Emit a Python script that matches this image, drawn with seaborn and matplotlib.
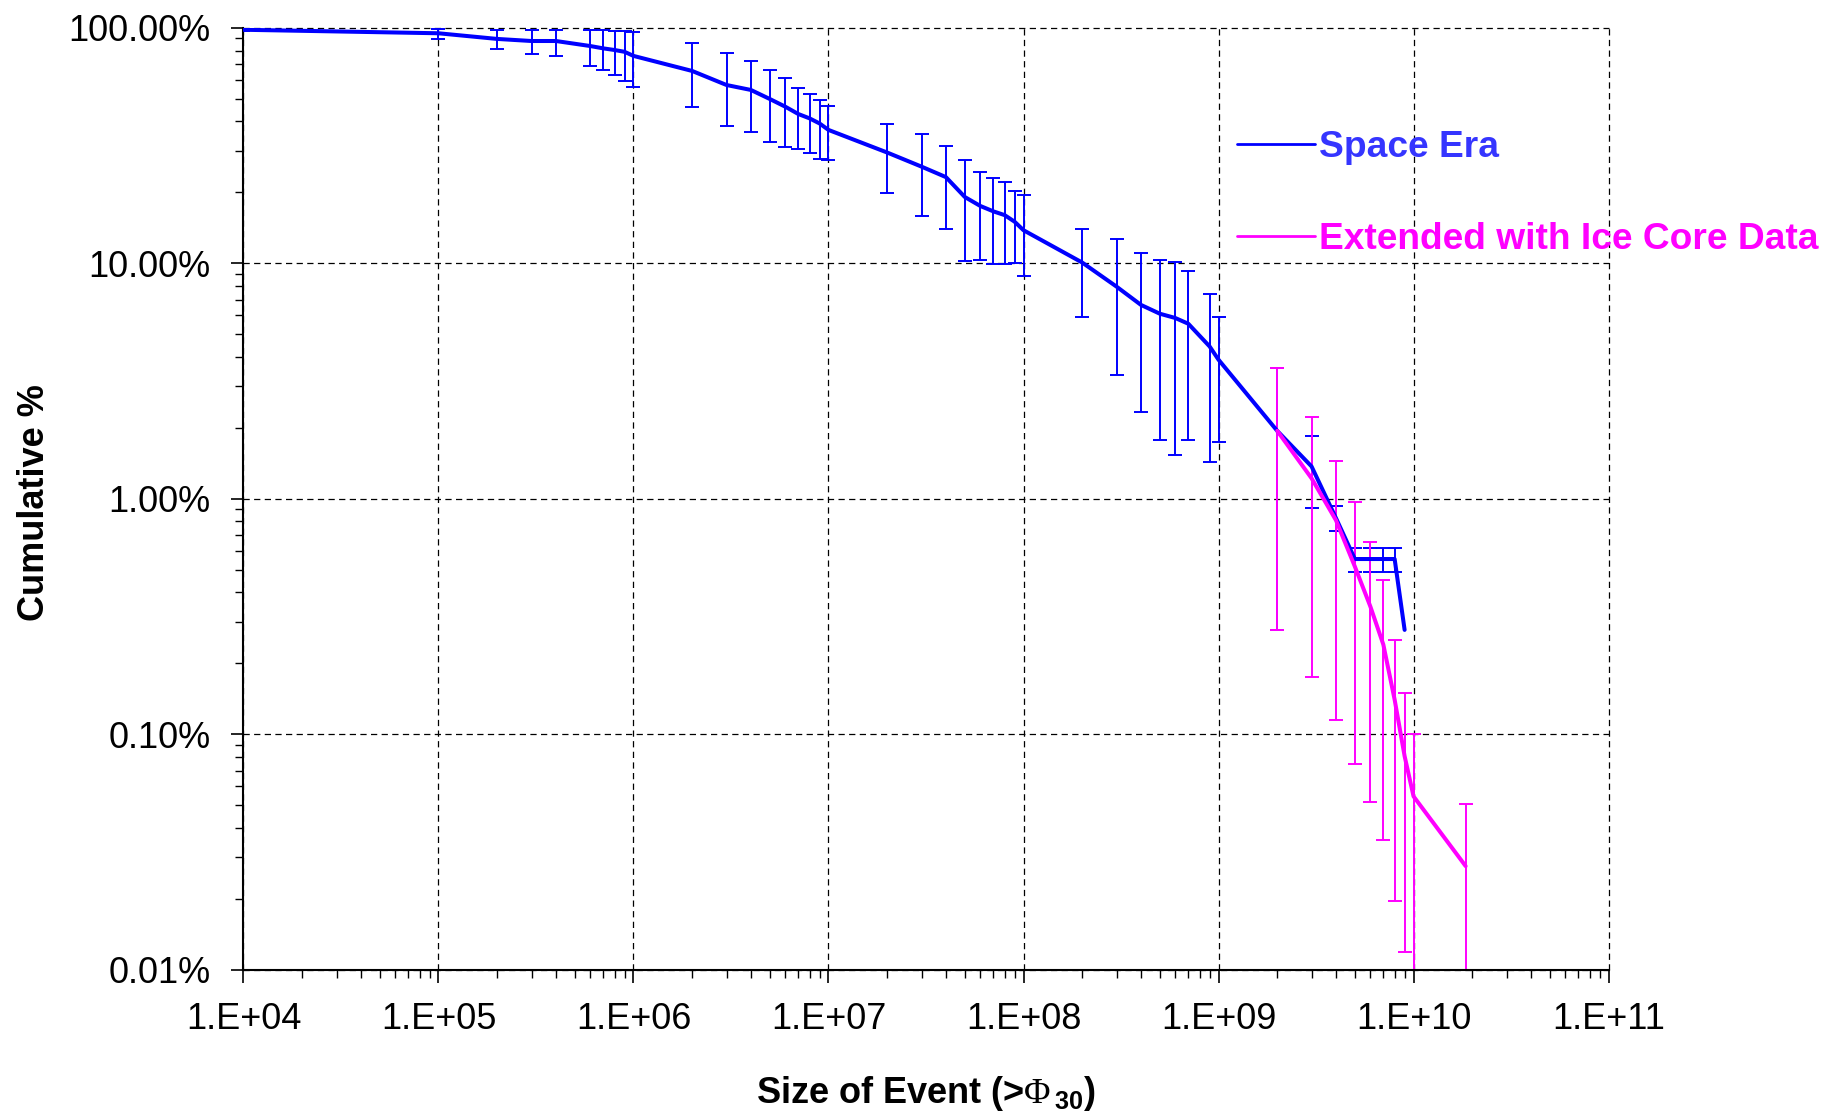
import numpy as np
import pandas as pd
import matplotlib
matplotlib.use("Agg")
import matplotlib.pyplot as plt
from matplotlib.lines import Line2D
from matplotlib.ticker import FuncFormatter, LogLocator, NullFormatter
import seaborn as sns

# Space Era record: event size (>Phi30), cumulative percent, lower / upper error bounds
space_size = [1e4, 1e5, 2e5, 3e5, 4e5, 6e5, 7e5, 8e5, 9e5,
              1e6, 2e6, 3e6, 4e6, 5e6, 6e6, 7e6, 8e6, 9e6,
              1e7, 2e7, 3e7, 4e7, 5e7, 6e7, 7e7, 8e7, 9e7,
              1e8, 2e8, 3e8, 4e8, 5e8, 6e8, 7e8, 9e8,
              1e9, 2e9, 3e9, 4e9, 5e9, 6e9, 7e9, 8e9, 9e9]
space_pct = [98.0, 94.7, 89.6, 87.8, 87.8, 83.6, 81.7, 80.4, 79.0,
             75.9, 65.5, 57.1, 54.4, 49.8, 46.2, 43.0, 41.2, 39.2,
             36.8, 29.5, 25.7, 23.2, 19.1, 17.5, 16.6, 16.0, 15.0,
             13.8, 10.06, 7.95, 6.65, 6.1, 5.85, 5.53, 4.43,
             3.89, 1.94, 1.37, 0.827, 0.554, 0.554, 0.554, 0.554, 0.277]
space_low = [97.0, 89.5, 81.3, 77.3, 75.5, 69.0, 66.4, 63.0, 59.6,
             56.2, 45.9, 38.3, 35.9, 32.8, 31.1, 30.6, 29.5, 27.8,
             27.4, 19.95, 15.8, 13.9, 10.2, 10.3, 9.9, 9.9, 10.0,
             8.8, 5.9, 3.35, 2.34, 1.78, 1.53, 1.78, 1.43,
             1.74, 0.278, 0.91, 0.731, 0.487, 0.487, 0.487, 0.487, np.nan]
space_high = [99.0, 98.5, 97.8, 97.8, 97.8, 97.8, 97.8, 97.0, 97.0,
              96.2, 86.3, 77.8, 72.0, 66.0, 61.0, 55.3, 52.1, 49.3,
              46.7, 38.9, 35.4, 31.6, 27.3, 24.5, 23.0, 22.2, 20.3,
              19.5, 14.0, 12.7, 11.0, 10.3, 10.07, 9.27, 7.4,
              5.93, 3.58, 1.85, 0.933, 0.616, 0.616, 0.616, 0.616, np.nan]

# Record extended with ice core data
ice_size = [2e9, 3e9, 4e9, 5e9, 6e9, 7e9, 8e9, 9e9, 1e10, 1.85e10]
ice_pct = [1.94, 1.22, 0.81, 0.515, 0.349, 0.24, 0.14, 0.0806, 0.0544, 0.0275]
ice_low = [0.278, 0.175, 0.1146, 0.0745, 0.0514, 0.0354, 0.0195, 0.01186, 0.0079, 0.004]
ice_high = [3.58, 2.23, 1.45, 0.963, 0.652, 0.45, 0.252, 0.1496, 0.1, 0.0503]

series_names = ["Space Era", "Extended with Ice Core Data"]
line_colors = {"Space Era": "#0000ff", "Extended with Ice Core Data": "#ff00ff"}
text_colors = ["#3535ff", "#ff00ff"]

sns.set_theme(style="white")
plt.rcParams["font.family"] = ["Liberation Sans", "DejaVu Sans"]
plt.rcParams["mathtext.fontset"] = "custom"
plt.rcParams["mathtext.rm"] = "Liberation Serif"
plt.rcParams["mathtext.default"] = "regular"
plt.rcParams["text.color"] = "black"
plt.rcParams["axes.labelcolor"] = "black"

df = pd.concat([
    pd.DataFrame({"size": space_size, "pct": space_pct, "series": series_names[0]}),
    pd.DataFrame({"size": ice_size, "pct": ice_pct, "series": series_names[1]}),
], ignore_index=True)

fig = plt.figure(figsize=(18.25, 11.17), dpi=100)
ax = fig.add_axes([0.1334, 0.1320, 0.7480, 0.8432])
ax.set_xscale("log")
ax.set_yscale("log")

# error bars
def draw_errors(x, y, lo, hi, color, z):
    x = np.asarray(x, float); y = np.asarray(y, float)
    lo = np.asarray(lo, float); hi = np.asarray(hi, float)
    m = ~np.isnan(lo)
    ax.errorbar(x[m], y[m], yerr=[y[m] - lo[m], hi[m] - y[m]], fmt="none",
                ecolor=color, elinewidth=1.4, capsize=5, capthick=1.4, zorder=z)

draw_errors(space_size, space_pct, space_low, space_high, "#0000ff", 2)
draw_errors(ice_size, ice_pct, ice_low, ice_high, "#ff00ff", 2.5)

sns.lineplot(data=df, x="size", y="pct", hue="series", hue_order=series_names,
             palette=line_colors, linewidth=2.9, estimator=None, sort=False,
             legend=False, ax=ax, zorder=3)

ax.set_xlim(1e4, 1e11)
ax.set_ylim(0.01, 100)

ax.xaxis.set_major_locator(LogLocator(base=10, numticks=20))
ax.yaxis.set_major_locator(LogLocator(base=10, numticks=20))
ax.xaxis.set_minor_locator(LogLocator(base=10, subs=np.arange(2, 10), numticks=100))
ax.yaxis.set_minor_locator(LogLocator(base=10, subs=np.arange(2, 10), numticks=100))
ax.xaxis.set_minor_formatter(NullFormatter())
ax.yaxis.set_minor_formatter(NullFormatter())
ax.xaxis.set_major_formatter(FuncFormatter(lambda v, p: f"1.E+{int(round(np.log10(v))):02d}"))
ax.yaxis.set_major_formatter(FuncFormatter(lambda v, p: f"{v:.2f}%"))

ax.grid(True, which="major", color="black", linestyle=(0, (5, 3.5)), linewidth=0.9)
ax.grid(False, which="minor")
for gl in ax.get_xgridlines() + ax.get_ygridlines():
    gl.set_clip_on(False)

for s in ["top", "right"]:
    ax.spines[s].set_visible(False)
for s in ["left", "bottom"]:
    ax.spines[s].set_color("black")
    ax.spines[s].set_linewidth(1.5)

ax.tick_params(axis="both", which="major", direction="out", length=9, width=1.2,
               pad=14.5, labelsize=26, colors="black", left=True, bottom=True)
ax.tick_params(axis="both", which="minor", direction="out", length=5.5, width=1.0,
               colors="black", left=True, bottom=True)

ax.set_xlabel("Size of Event (>$\\mathrm{\\Phi}_{\\,30}$)", fontsize=26, fontweight="bold",
              color="black")
ax.set_ylabel("Cumulative %", fontsize=26, fontweight="bold", color="black")
ax.xaxis.set_label_coords(0.5, -0.1105)
ax.yaxis.set_label_coords(-0.1403, 0.4954)

handles = [Line2D([], [], color=line_colors[n], linewidth=2.0) for n in series_names]
leg = ax.legend(handles, series_names, loc="upper left",
                bbox_to_anchor=(1237 / 1825, 1 - 130 / 1117), bbox_transform=fig.transFigure,
                frameon=False, borderpad=0, borderaxespad=0, handlelength=2.1,
                handletextpad=0.12, labelspacing=1.53,
                prop={"family": ["Liberation Sans", "DejaVu Sans"], "weight": "bold", "size": 26.7})
for t, c in zip(leg.get_texts(), text_colors):
    t.set_color(c)

fig.savefig("out.png", dpi=100)
